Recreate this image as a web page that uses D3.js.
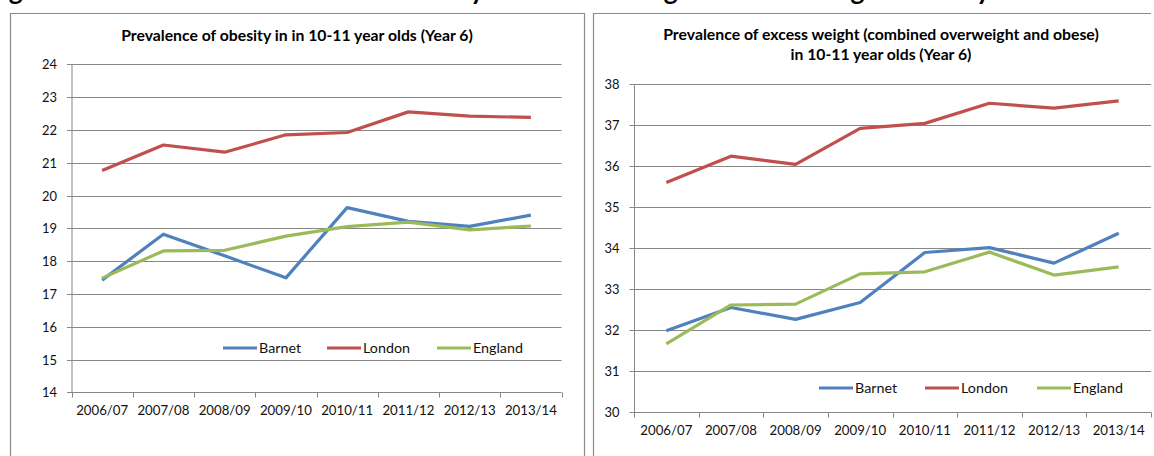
<!DOCTYPE html>
<html>
<head>
<meta charset="utf-8">
<script src="https://cdn.jsdelivr.net/npm/d3@7"></script>
<style>
  html, body { margin: 0; padding: 0; background: #ffffff; }
  svg { display: block; }
  text { font-family: "Lato", "Open Sans", "DejaVu Sans", sans-serif; }
</style>
</head>
<body>
<svg id="chart" width="1154" height="456"></svg>
<script>
// ---------- DATA ----------
const categories = ["2006/07", "2007/08", "2008/09", "2009/10", "2010/11", "2011/12", "2012/13", "2013/14"];
const seriesNames = ["Barnet", "London", "England"];

// Prevalence of obesity, Year 6 (%)
const obesityBarnet  = [17.42, 18.82, 18.16, 17.49, 19.63, 19.21, 19.06, 19.40];
const obesityLondon  = [20.76, 21.54, 21.32, 21.85, 21.92, 22.55, 22.42, 22.38];
const obesityEngland = [17.48, 18.31, 18.33, 18.76, 19.05, 19.19, 18.95, 19.07];
const obesityTicks   = [14, 15, 16, 17, 18, 19, 20, 21, 22, 23, 24];

// Prevalence of excess weight, Year 6 (%)
const excessBarnet  = [31.98, 32.55, 32.26, 32.67, 33.89, 34.01, 33.63, 34.36];
const excessLondon  = [35.60, 36.24, 36.04, 36.92, 37.04, 37.53, 37.41, 37.59];
const excessEngland = [31.66, 32.61, 32.63, 33.37, 33.42, 33.90, 33.34, 33.54];
const excessTicks   = [30, 31, 32, 33, 34, 35, 36, 37, 38];

const figureTitle = "Figure 10: Prevalence of childhood obesity and excess weight in children aged 10-11 years";
const titleLeft  = ["Prevalence of obesity in in 10-11 year olds (Year 6)"];
const titleRight = ["Prevalence of excess weight (combined overweight and obese)", "in 10-11 year olds (Year 6)"];

// ---------- STYLE ----------
const colors = { Barnet: "#4F81BD", London: "#C0504D", England: "#9BBB59" };
const gridColor = "#878787";
const textColor = "#111111";

const svg = d3.select("#chart");

// Font size that makes a sample string reach a target width
function sizeFor(str, target, weight) {
  const t = svg.append("text").attr("font-size", 20).attr("font-weight", weight || 400).text(str);
  const w = t.node().getComputedTextLength();
  t.remove();
  return 20 * target / w;
}
const tickFs   = sizeFor("2006/07", 52);
const yTickFs  = sizeFor("14", 15);
const legendFs = sizeFor("England", 50);

function fitWidth(sel, target) {
  const n = sel.node();
  const fs = parseFloat(sel.attr("font-size"));
  const w = n.getComputedTextLength();
  sel.attr("font-size", (fs * target / w).toFixed(2));
}

// ---------- Cropped figure caption at the very top ----------
(function () {
  const t = svg.append("text")
    .attr("x", 0).attr("y", -0.5)
    .attr("font-size", 18).attr("font-weight", 700)
    .attr("fill", "#000").text(figureTitle);
  const n = t.node();
  const iG = 3;
  const iY = figureTitle.lastIndexOf("y");
  const ex = i => { const e = n.getExtentOfChar(i); return e.x + e.width / 2; };
  const s = (983 - 30) / (ex(iY) - ex(iG));
  t.attr("font-size", (18 * s).toFixed(2));
  t.attr("x", 30 - ex(iG));
})();

// ---------- Panel frames ----------
svg.append("path")
  .attr("d", "M10.5,460 V13.5 H584.5 V460")
  .attr("fill", "none").attr("stroke", "#8a8a8a").attr("stroke-width", 1.2);
svg.append("path")
  .attr("d", "M593.5,460 V13.5 H1151")
  .attr("fill", "none").attr("stroke", "#8a8a8a").attr("stroke-width", 1.2);

// ---------- Chart drawer ----------
function drawChart(cfg) {
  const g = svg.append("g");
  const x = d3.scaleBand().domain(categories).range([cfg.x0, cfg.x1]).padding(0);
  const y = d3.scaleLinear().domain([cfg.ticks[0], cfg.ticks[cfg.ticks.length - 1]]).range([cfg.yBottom, cfg.yTop]);

  // gridlines
  g.append("g").selectAll("line").data(cfg.ticks.slice(1)).join("line")
    .attr("x1", cfg.x0).attr("x2", cfg.x1)
    .attr("y1", d => Math.round(y(d)) + 0.5).attr("y2", d => Math.round(y(d)) + 0.5)
    .attr("stroke", gridColor).attr("stroke-width", 1);

  // y axis
  const yAxis = g.append("g")
    .attr("transform", `translate(${cfg.x0},0)`)
    .call(d3.axisLeft(y).tickValues(cfg.ticks).tickSize(5).tickPadding(10).tickFormat(d3.format("d")));
  yAxis.select(".domain").attr("stroke", gridColor).attr("d", `M0.5,${cfg.yTop}V${cfg.yBottom}`);
  yAxis.selectAll(".tick line").attr("stroke", gridColor).attr("x2", -5);
  yAxis.selectAll(".tick").attr("transform", d => `translate(0.5,${Math.round(y(d)) + 0.5})`);
  yAxis.selectAll(".tick text").attr("font-family", "Lato, 'Open Sans', sans-serif")
    .attr("font-size", yTickFs.toFixed(2)).attr("fill", textColor).attr("x", -15).attr("dy", "0.36em");

  // x axis line
  const yb = Math.round(cfg.yBottom) + 0.5;
  g.append("line").attr("x1", cfg.x0).attr("x2", cfg.x1).attr("y1", yb).attr("y2", yb)
    .attr("stroke", gridColor).attr("stroke-width", 1);
  // x tick marks at category boundaries
  const bounds = categories.map(c => x(c)).concat([x.range()[1]]);
  g.append("g").selectAll("line").data(bounds).join("line")
    .attr("x1", d => Math.round(d) + 0.5).attr("x2", d => Math.round(d) + 0.5)
    .attr("y1", yb).attr("y2", yb + 5)
    .attr("stroke", gridColor).attr("stroke-width", 1);
  // x labels
  const xAxis = g.append("g")
    .attr("transform", `translate(0,${yb})`)
    .call(d3.axisBottom(x).tickSize(0).tickPadding(cfg.labelPad));
  xAxis.select(".domain").remove();
  xAxis.selectAll(".tick text").attr("font-family", "Lato, 'Open Sans', sans-serif")
    .attr("font-size", tickFs.toFixed(2)).attr("fill", textColor);

  // lines
  const line = d3.line().x((d, i) => x(categories[i]) + x.bandwidth() / 2).y(d => y(d));
  cfg.series.forEach(s => {
    g.append("path").datum(s.values)
      .attr("d", line).attr("fill", "none")
      .attr("stroke", colors[s.name]).attr("stroke-width", 3.2)
      .attr("stroke-linejoin", "round").attr("stroke-linecap", "butt");
  });

  // title
  cfg.title.forEach((t, i) => {
    const el = g.append("text")
      .attr("x", cfg.titleX).attr("y", cfg.titleY + i * 20)
      .attr("text-anchor", "middle").attr("font-size", 13).attr("font-weight", 700)
      .attr("fill", "#000").text(t);
    fitWidth(el, cfg.titleW[i]);
  });

  // legend
  const leg = g.append("g");
  cfg.series.forEach((s, i) => {
    const lx = cfg.legendX[i];
    leg.append("line").attr("x1", lx).attr("x2", lx + 34)
      .attr("y1", cfg.legendY).attr("y2", cfg.legendY)
      .attr("stroke", colors[s.name]).attr("stroke-width", 3.2);
    leg.append("text").attr("x", lx + 36).attr("y", cfg.legendY).attr("dy", "0.36em")
      .attr("font-size", legendFs.toFixed(2)).attr("fill", textColor).text(s.name);
  });
}

drawChart({
  x0: 71.5, x1: 561.5, yTop: 64.3, yBottom: 392.3,
  ticks: obesityTicks,
  labelPad: 13,
  series: [
    { name: seriesNames[0], values: obesityBarnet },
    { name: seriesNames[1], values: obesityLondon },
    { name: seriesNames[2], values: obesityEngland }
  ],
  title: titleLeft, titleX: 297, titleY: 41, titleW: [352],
  legendX: [223, 327, 437], legendY: 348
});

drawChart({
  x0: 634, x1: 1151, yTop: 84, yBottom: 412,
  ticks: excessTicks,
  labelPad: 13,
  series: [
    { name: seriesNames[0], values: excessBarnet },
    { name: seriesNames[1], values: excessLondon },
    { name: seriesNames[2], values: excessEngland }
  ],
  title: titleRight, titleX: 881, titleY: 40, titleW: [436, 181],
  legendX: [819, 925, 1037], legendY: 388
});
</script>
</body>
</html>
